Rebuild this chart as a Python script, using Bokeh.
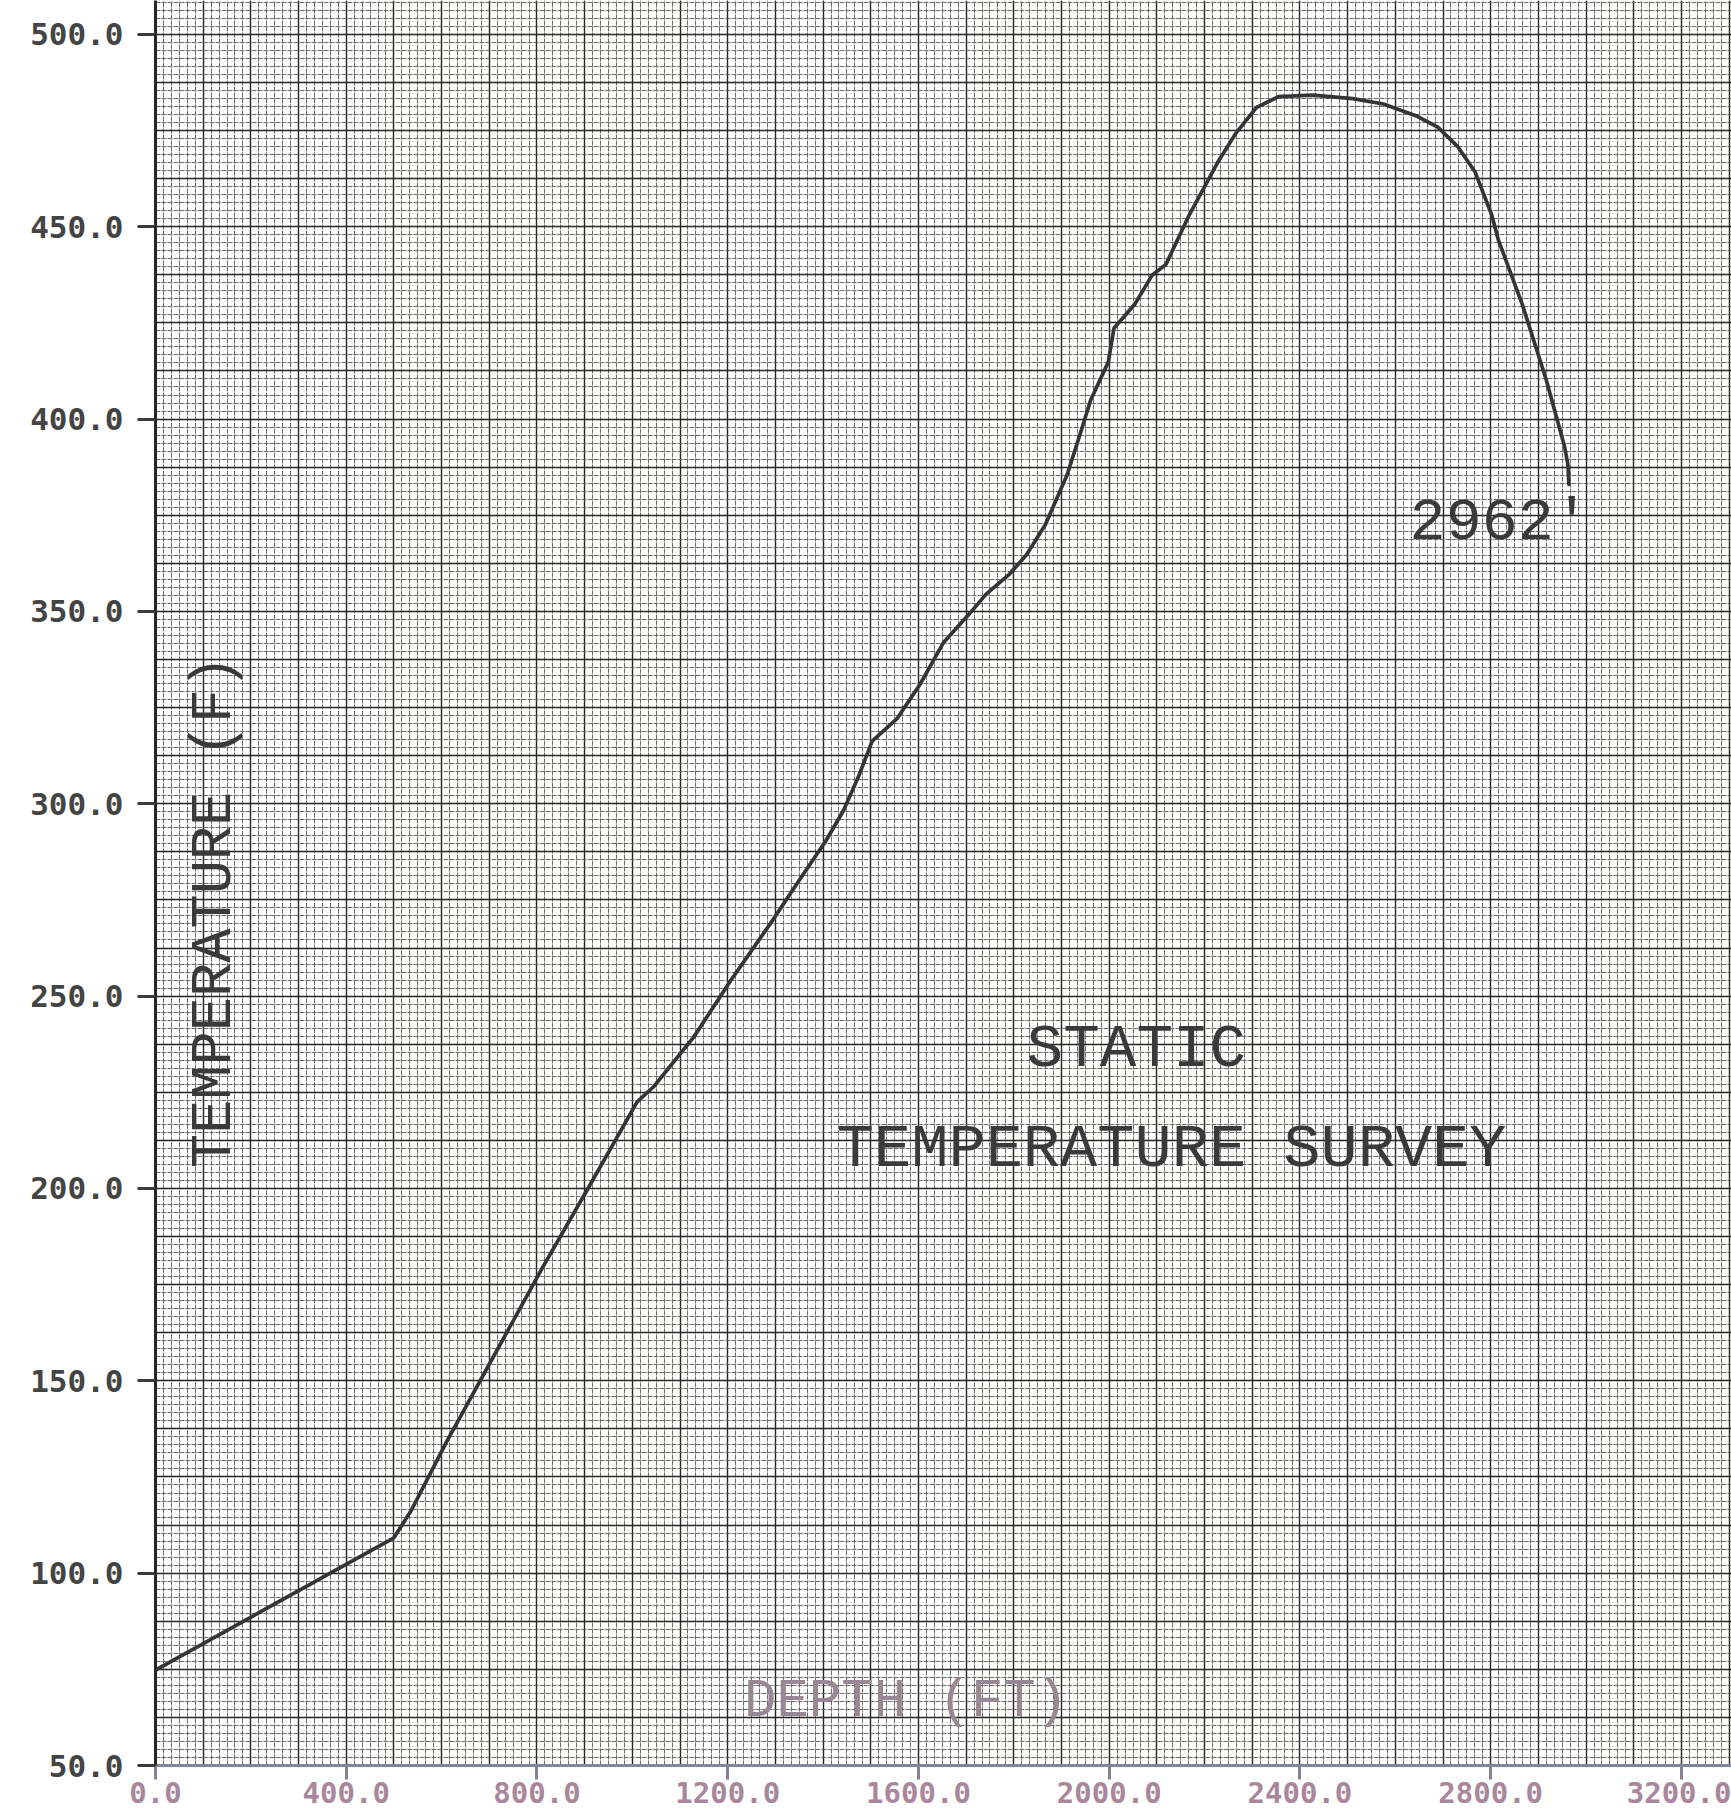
import math
from bokeh.plotting import figure
from bokeh.models import Range1d, SingleIntervalTicker, FixedTicker, ColumnDataSource
from bokeh.core.properties import value
from bokeh.embed import file_html
from bokeh.resources import INLINE

# ---- data ----
depth_ft = [0, 500, 535, 612, 811, 912, 1010, 1045, 1129, 1207, 1293, 1352, 1405,
            1443, 1474, 1503, 1555, 1603, 1653, 1705, 1742, 1791, 1827, 1866, 1912,
            1942, 1961, 1998, 2010, 2054, 2090, 2119, 2168, 2227, 2265, 2309, 2355,
            2426, 2511, 2575, 2646, 2689, 2731, 2767, 2802, 2816, 2866, 2916, 2955,
            2962, 2964]
temp_f = [74.8, 109.2, 116.0, 134.5, 179.3, 201.1, 222.5, 226.5, 239.4, 254.2, 269.5,
          280.5, 290.2, 298.3, 307.0, 316.3, 322.1, 331.0, 342.0, 349.1, 354.5, 359.7,
          364.8, 372.5, 385.6, 397.3, 404.9, 414.8, 423.6, 429.9, 437.4, 440.2, 453.1,
          466.6, 474.2, 481.0, 483.8, 484.2, 483.3, 481.9, 478.7, 475.9, 470.8, 464.3,
          453.1, 446.6, 429.9, 410.4, 392.8, 388.1, 383.0]

x_ticks = [0, 400, 800, 1200, 1600, 2000, 2400, 2800, 3200]
x_tick_labels = ["0.0", "400.0", "800.0", "1200.0", "1600.0", "2000.0", "2400.0", "2800.0", "3200.0"]
y_ticks = [50, 100, 150, 200, 250, 300, 350, 400, 450, 500]
y_tick_labels = ["50.0", "100.0", "150.0", "200.0", "250.0", "300.0", "350.0", "400.0", "450.0", "500.0"]

x_title = "DEPTH (FT)"
y_title = "TEMPERATURE (F)"
note_line1 = "STATIC"
note_line2 = "TEMPERATURE SURVEY"
end_label = "2962'"

# ---- figure ----
p = figure(width=1731, height=1818,
           x_range=Range1d(0, 3305), y_range=Range1d(50, 508.8),
           output_backend="svg", toolbar_location=None,
           min_border_left=155, min_border_right=0, min_border_top=0, min_border_bottom=53)
p.outline_line_color = None
p.background_fill_color = "#fdfdfb"
p.border_fill_color = "#ffffff"

# graph-paper grid
p.xgrid.ticker = SingleIntervalTicker(interval=100, num_minor_ticks=6)
p.ygrid.ticker = SingleIntervalTicker(interval=12.5, num_minor_ticks=6)
for g in (p.xgrid, p.ygrid):
    g.grid_line_color = "#262626"
    g.grid_line_width = 1.4
    g.grid_line_alpha = 1.0
    g.minor_grid_line_color = "#5e5e5e"
    g.minor_grid_line_width = 1
    g.minor_grid_line_alpha = 0.9
    g.minor_grid_line_dash = "5 1"

# x axis
xa = p.xaxis[0]
xa.ticker = FixedTicker(ticks=x_ticks)
xa.major_label_overrides = {t: l for t, l in zip(x_ticks, x_tick_labels)}
xa.minor_tick_line_color = None
xa.major_tick_in = 0
xa.major_tick_out = 14
xa.major_tick_line_width = 3
xa.major_tick_line_color = "#8a8090"
xa.axis_line_width = 3
xa.axis_line_color = "#7f8794"
xa.major_label_standoff = 2
xa.major_label_text_font = "DejaVu Sans Mono"
xa.major_label_text_font_style = "bold"
xa.major_label_text_font_size = "29px"
xa.major_label_text_color = "#a8879b"

# y axis
ya = p.yaxis[0]
ya.ticker = FixedTicker(ticks=y_ticks)
ya.major_label_overrides = {t: l for t, l in zip(y_ticks, y_tick_labels)}
ya.minor_tick_line_color = None
ya.major_tick_in = 0
ya.major_tick_out = 18
ya.major_tick_line_width = 3
ya.major_tick_line_color = "#3a3a3a"
ya.axis_line_width = 3
ya.axis_line_color = "#262626"
ya.major_label_standoff = 14
ya.major_label_text_font = "DejaVu Sans Mono"
ya.major_label_text_font_style = "bold"
ya.major_label_text_font_size = "31px"
ya.major_label_text_color = "#444444"

# survey curve
src = ColumnDataSource(dict(depth=depth_ft, temp=temp_f))
p.line("depth", "temp", source=src, line_color="#353535", line_width=3.7,
       line_join="round", line_cap="round")

# in-plot texts
mono = value("Liberation Mono")
p.text(x=[125], y=[272], text=[y_title], angle=math.pi / 2,
       text_font=mono, text_font_size="57px", text_color="#3a3a3a",
       text_align="center", text_baseline="middle")
p.text(x=[1574], y=[66.7], text=[x_title],
       text_font=mono, text_font_size="54px", text_color="#9a8794",
       text_align="center", text_baseline="middle")
p.text(x=[2057], y=[236.2], text=[note_line1],
       text_font=mono, text_font_size="61px", text_color="#3a3a3a",
       text_align="center", text_baseline="middle")
p.text(x=[2131], y=[210.2], text=[note_line2],
       text_font=mono, text_font_size="62px", text_color="#3a3a3a",
       text_align="center", text_baseline="middle")
p.text(x=[2630], y=[373.0], text=[end_label],
       text_font=mono, text_font_size="60px", text_color="#3a3a3a",
       text_align="left", text_baseline="middle")

open("out.html", "w").write(file_html(p, INLINE))
